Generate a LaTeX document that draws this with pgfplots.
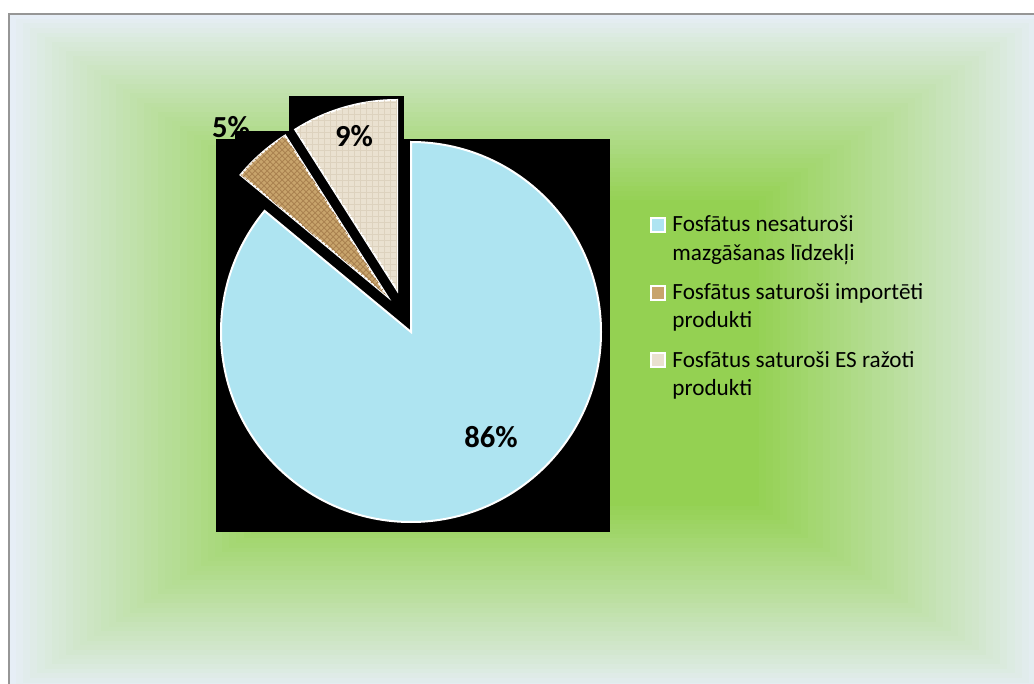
\documentclass[border=0pt]{standalone}
\usepackage{pgfplots}
\pgfplotsset{compat=1.18}
\usepackage{pgfplotstable}
\usepackage{fontspec}
\setmainfont{Carlito}
\usetikzlibrary{patterns}

\definecolor{edg}{RGB}{230,238,246}
\definecolor{grn}{RGB}{148,209,82}
\definecolor{water}{RGB}{174,228,241}
\definecolor{burlap}{RGB}{200,164,108}
\definecolor{burlapd}{RGB}{170,130,80}
\definecolor{linen}{RGB}{234,225,208}
\definecolor{linend}{RGB}{221,210,190}
\definecolor{framegray}{RGB}{150,150,150}

\pgfplotstableread{
share
86
5
9
}\piedata

\begin{document}
\begin{tikzpicture}
\begin{axis}[
  x=0.5pt, y=0.5pt, y dir=reverse,
  xmin=0, xmax=1034, ymin=0, ymax=684,
  hide axis, clip=true,
]
\pgfplotstablegetelem{0}{share}\of\piedata \let\sA\pgfplotsretval
\pgfplotstablegetelem{1}{share}\of\piedata \let\sB\pgfplotsretval
\pgfplotstablegetelem{2}{share}\of\piedata \let\sC\pgfplotsretval
\pgfmathsetmacro\aA{90-3.6*\sA}
\pgfmathsetmacro\aB{\aA-3.6*\sB}
\pgfmathsetmacro\aC{\aB-3.6*\sC}

% page background
\fill[white] (axis cs:0,0) rectangle (axis cs:1034,684);
% gradient background (rectangular, from centre)
\foreach \i in {0,...,40}{
  \pgfmathsetmacro\s{1-0.55*\i/40}
  \pgfmathtruncatemacro\p{100*(\i/40)^0.9}
  \pgfmathsetmacro\xa{max(9,526-\s*517)}
  \pgfmathsetmacro\ya{max(14,353-\s*339)}
  \pgfmathsetmacro\xb{min(1034,526+\s*517)}
  \pgfmathsetmacro\yb{min(684,353+\s*339)}
  \edef\temp{\noexpand\fill[fill={grn!\p!edg}] (axis cs:\xa,\ya) rectangle (axis cs:\xb,\yb);}
  \temp
}
\draw[framegray, line width=1pt] (axis cs:9,684) -- (axis cs:9,14) -- (axis cs:1034,14);

% black rendering boxes behind slices
\fill[black] (axis cs:216,139) rectangle (axis cs:610,532);
\fill[black] (axis cs:235,131) rectangle (axis cs:395,300);
\fill[black] (axis cs:289,96) rectangle (axis cs:404,300);

% slices
\fill[water, draw=white, line width=1pt] (axis cs:411,332) -- ++(90:95pt) arc[start angle=90, end angle=\aA, radius=95pt] -- cycle;
\fill[burlap, draw=white, line width=1pt, postaction={pattern=crosshatch, pattern color=burlapd}] (axis cs:387,296) -- ++(\aA:95pt) arc[start angle=\aA, end angle=\aB, radius=95pt] -- cycle;
\fill[linen, draw=white, line width=1pt, postaction={pattern=grid, pattern color=linend}] (axis cs:397,290) -- ++(\aB:95pt) arc[start angle=\aB, end angle=\aC, radius=95pt] -- cycle;

% value labels
\node[font=\bfseries\fontsize{15.3}{18}\selectfont, inner sep=0] at (axis cs:231,127) {5\%};
\node[font=\bfseries\fontsize{15.3}{18}\selectfont, inner sep=0] at (axis cs:354,136) {9\%};
\node[font=\bfseries\fontsize{15.3}{18}\selectfont, inner sep=0] at (axis cs:491,437) {86\%};

% legend
\fill[water, draw=white, line width=0.6pt] (axis cs:651,218) rectangle (axis cs:665,232);
\fill[burlap, draw=white, line width=0.6pt] (axis cs:651,286) rectangle (axis cs:665,300);
\fill[linen, draw=white, line width=0.6pt] (axis cs:651,353) rectangle (axis cs:665,367);
\tikzset{legtxt/.style={anchor=base west, inner sep=0, font=\fontsize{11.6}{14}\selectfont}}
\node[legtxt] at (axis cs:672,232) {Fosfātus nesaturoši};
\node[legtxt] at (axis cs:672,261) {mazgāšanas līdzekļi};
\node[legtxt] at (axis cs:672,300) {Fosfātus saturoši importēti};
\node[legtxt] at (axis cs:672,328) {produkti};
\node[legtxt] at (axis cs:672,367) {Fosfātus saturoši ES ražoti};
\node[legtxt] at (axis cs:672,395) {produkti};
\end{axis}
\end{tikzpicture}
\end{document}
